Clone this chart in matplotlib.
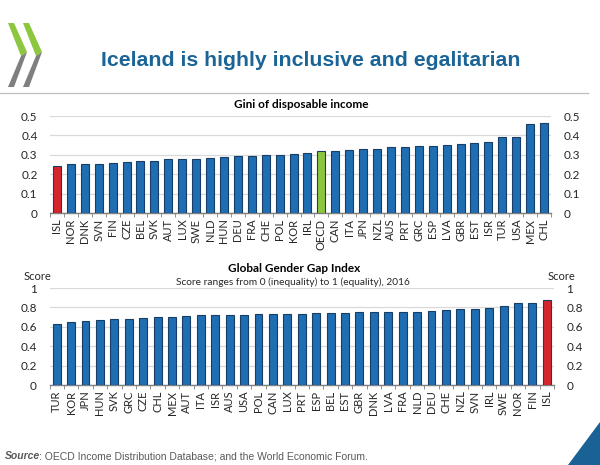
import matplotlib
matplotlib.use("Agg")
import matplotlib.pyplot as plt
from matplotlib.patches import Polygon
import numpy as np

# ---------------- data ----------------
gini_countries = ["ISL", "NOR", "DNK", "SVN", "FIN", "CZE", "BEL", "SVK", "AUT", "LUX",
                  "SWE", "NLD", "HUN", "DEU", "FRA", "CHE", "POL", "KOR", "IRL", "OECD",
                  "CAN", "ITA", "JPN", "NZL", "AUS", "PRT", "GRC", "ESP", "LVA", "GBR",
                  "EST", "ISR", "TUR", "USA", "MEX", "CHL"]
gini_values = [0.244, 0.253, 0.254, 0.254, 0.258, 0.264, 0.270, 0.270, 0.279, 0.280,
               0.280, 0.283, 0.288, 0.293, 0.296, 0.297, 0.300, 0.302, 0.308, 0.318,
               0.322, 0.325, 0.331, 0.331, 0.338, 0.341, 0.344, 0.347, 0.351, 0.358,
               0.361, 0.365, 0.392, 0.392, 0.459, 0.465]

gggi_countries = ["TUR", "KOR", "JPN", "HUN", "SVK", "GRC", "CZE", "CHL", "MEX", "AUT",
                  "ITA", "ISR", "AUS", "USA", "POL", "CAN", "LUX", "PRT", "ESP", "BEL",
                  "EST", "GBR", "DNK", "LVA", "FRA", "NLD", "DEU", "CHE", "NZL", "SVN",
                  "IRL", "SWE", "NOR", "FIN", "ISL"]
gggi_values = [0.624, 0.649, 0.660, 0.669, 0.679, 0.680, 0.690, 0.699, 0.700, 0.716,
               0.719, 0.719, 0.721, 0.722, 0.727, 0.731, 0.734, 0.737, 0.738, 0.745,
               0.747, 0.752, 0.754, 0.755, 0.755, 0.756, 0.766, 0.776, 0.781, 0.786,
               0.797, 0.815, 0.842, 0.845, 0.874]

gini_ticks = [0, 0.1, 0.2, 0.3, 0.4, 0.5]
gini_ticklabels = ["0", "0.1", "0.2", "0.3", "0.4", "0.5"]
gggi_ticks = [0, 0.2, 0.4, 0.6, 0.8, 1.0]
gggi_ticklabels = ["0", "0.2", "0.4", "0.6", "0.8", "1"]

BLUE = "#1f6db2"
EDGE = "#173f66"
RED = "#d7262b"
GREEN = "#8cc63f"
TXT = "#262626"
FONT = "Lato"

W, H = 600, 465
fig = plt.figure(figsize=(6, 4.65), dpi=100)


def px(x, y):
    return x / W, 1 - y / H


def style_axis(ax, cats, ticks, ticklabels, ymax):
    n = len(cats)
    ax.set_xlim(-0.5, n - 0.5)
    ax.set_ylim(0, ymax)
    for s in ["top", "left", "right"]:
        ax.spines[s].set_visible(False)
    ax.spines["bottom"].set_color("#7f7f7f")
    ax.spines["bottom"].set_linewidth(1.0)
    ax.set_yticks(ticks)
    ax.set_yticklabels(ticklabels, fontsize=8.5, color=TXT, family=FONT)
    ax.tick_params(axis="y", length=0, pad=9, labelright=True, right=False, left=False)
    ax.yaxis.grid(True, color="#d9d9d9", linewidth=0.9)
    ax.set_axisbelow(True)
    ax.set_xticks(np.arange(n))
    ax.set_xticklabels(cats, rotation=90, fontsize=8, color=TXT, family=FONT)
    ax.tick_params(axis="x", which="major", length=0, pad=4)
    ax.set_xticks(np.arange(-0.5, n, 1.0), minor=True)
    ax.tick_params(axis="x", which="minor", length=3, color="#7f7f7f", direction="out")
    for tk in ax.yaxis.get_major_ticks():
        tk.label1.set_horizontalalignment("right")
        tk.label2.set_horizontalalignment("left")
        tk.label2.set_fontsize(8.5)
        tk.label2.set_color(TXT)
        tk.label2.set_family(FONT)


# ---------------- top chart ----------------
l, b = px(50, 213)
r, t = px(551, 116)
ax1 = fig.add_axes([l, b, r - l, t - b])
colors1 = [RED if c == "ISL" else GREEN if c == "OECD" else BLUE for c in gini_countries]
ax1.bar(np.arange(len(gini_countries)), gini_values, width=0.58, color=colors1,
        edgecolor=EDGE, linewidth=0.8, zorder=3)
style_axis(ax1, gini_countries, gini_ticks, gini_ticklabels, 0.5)

# ---------------- bottom chart ----------------
l2, b2 = px(49.5, 385)
r2, t2 = px(554, 288)
ax2 = fig.add_axes([l2, b2, r2 - l2, t2 - b2])
colors2 = [RED if c == "ISL" else BLUE for c in gggi_countries]
ax2.bar(np.arange(len(gggi_countries)), gggi_values, width=0.55, color=colors2,
        edgecolor=EDGE, linewidth=0.8, zorder=3)
style_axis(ax2, gggi_countries, gggi_ticks, gggi_ticklabels, 1.0)

# ---------------- texts ----------------
fig.text(*px(311, 60), "Iceland is highly inclusive and egalitarian", ha="center", va="center",
         fontsize=15.3, fontweight="bold", color="#1a6496", family="Liberation Sans")

fig.add_artist(plt.Line2D([0, 588 / W], [1 - 93 / H] * 2, color="#bfbfbf", linewidth=0.9))

fig.text(*px(301, 105), "Gini of disposable income", ha="center", va="center",
         fontsize=8.5, fontweight="bold", color="#000000", family=FONT)

fig.text(*px(294, 269), "Global Gender Gap Index", ha="center", va="center",
         fontsize=8.5, fontweight="bold", color="#000000", family=FONT)
fig.text(*px(293, 282), "Score ranges from 0 (inequality) to 1 (equality), 2016", ha="center",
         va="center", fontsize=7.3, color=TXT, family=FONT)
fig.text(*px(37, 276), "Score", ha="center", va="center", fontsize=8, color=TXT, family=FONT)
fig.text(*px(561, 276), "Score", ha="center", va="center", fontsize=8, color=TXT, family=FONT)

# source line
fig.text(*px(5, 456), "Source", ha="left", va="center", fontsize=7.5, color="#595959",
         family="Liberation Sans", fontweight="bold", style="italic")
fig.text(*px(39, 456), ": OECD Income Distribution Database; and the World Economic Forum.",
         ha="left", va="center", fontsize=7.5, color="#595959", family="Liberation Sans")

# ---------------- logo ----------------
def poly(pts, color):
    fig.add_artist(Polygon([px(x, y) for x, y in pts], closed=True, facecolor=color,
                           edgecolor="none", transform=fig.transFigure))

for off in (0, 15):
    poly([(8 + off, 23), (14 + off, 23), (27 + off, 52), (21 + off, 56)], "#8dc63f")
    poly([(21 + off, 56), (27 + off, 52), (14 + off, 87), (8 + off, 87)], "#7f7f7f")

# corner triangle
poly([(568, 465), (600, 422), (600, 465)], "#1a6196")

fig.savefig("out.png", dpi=100)
